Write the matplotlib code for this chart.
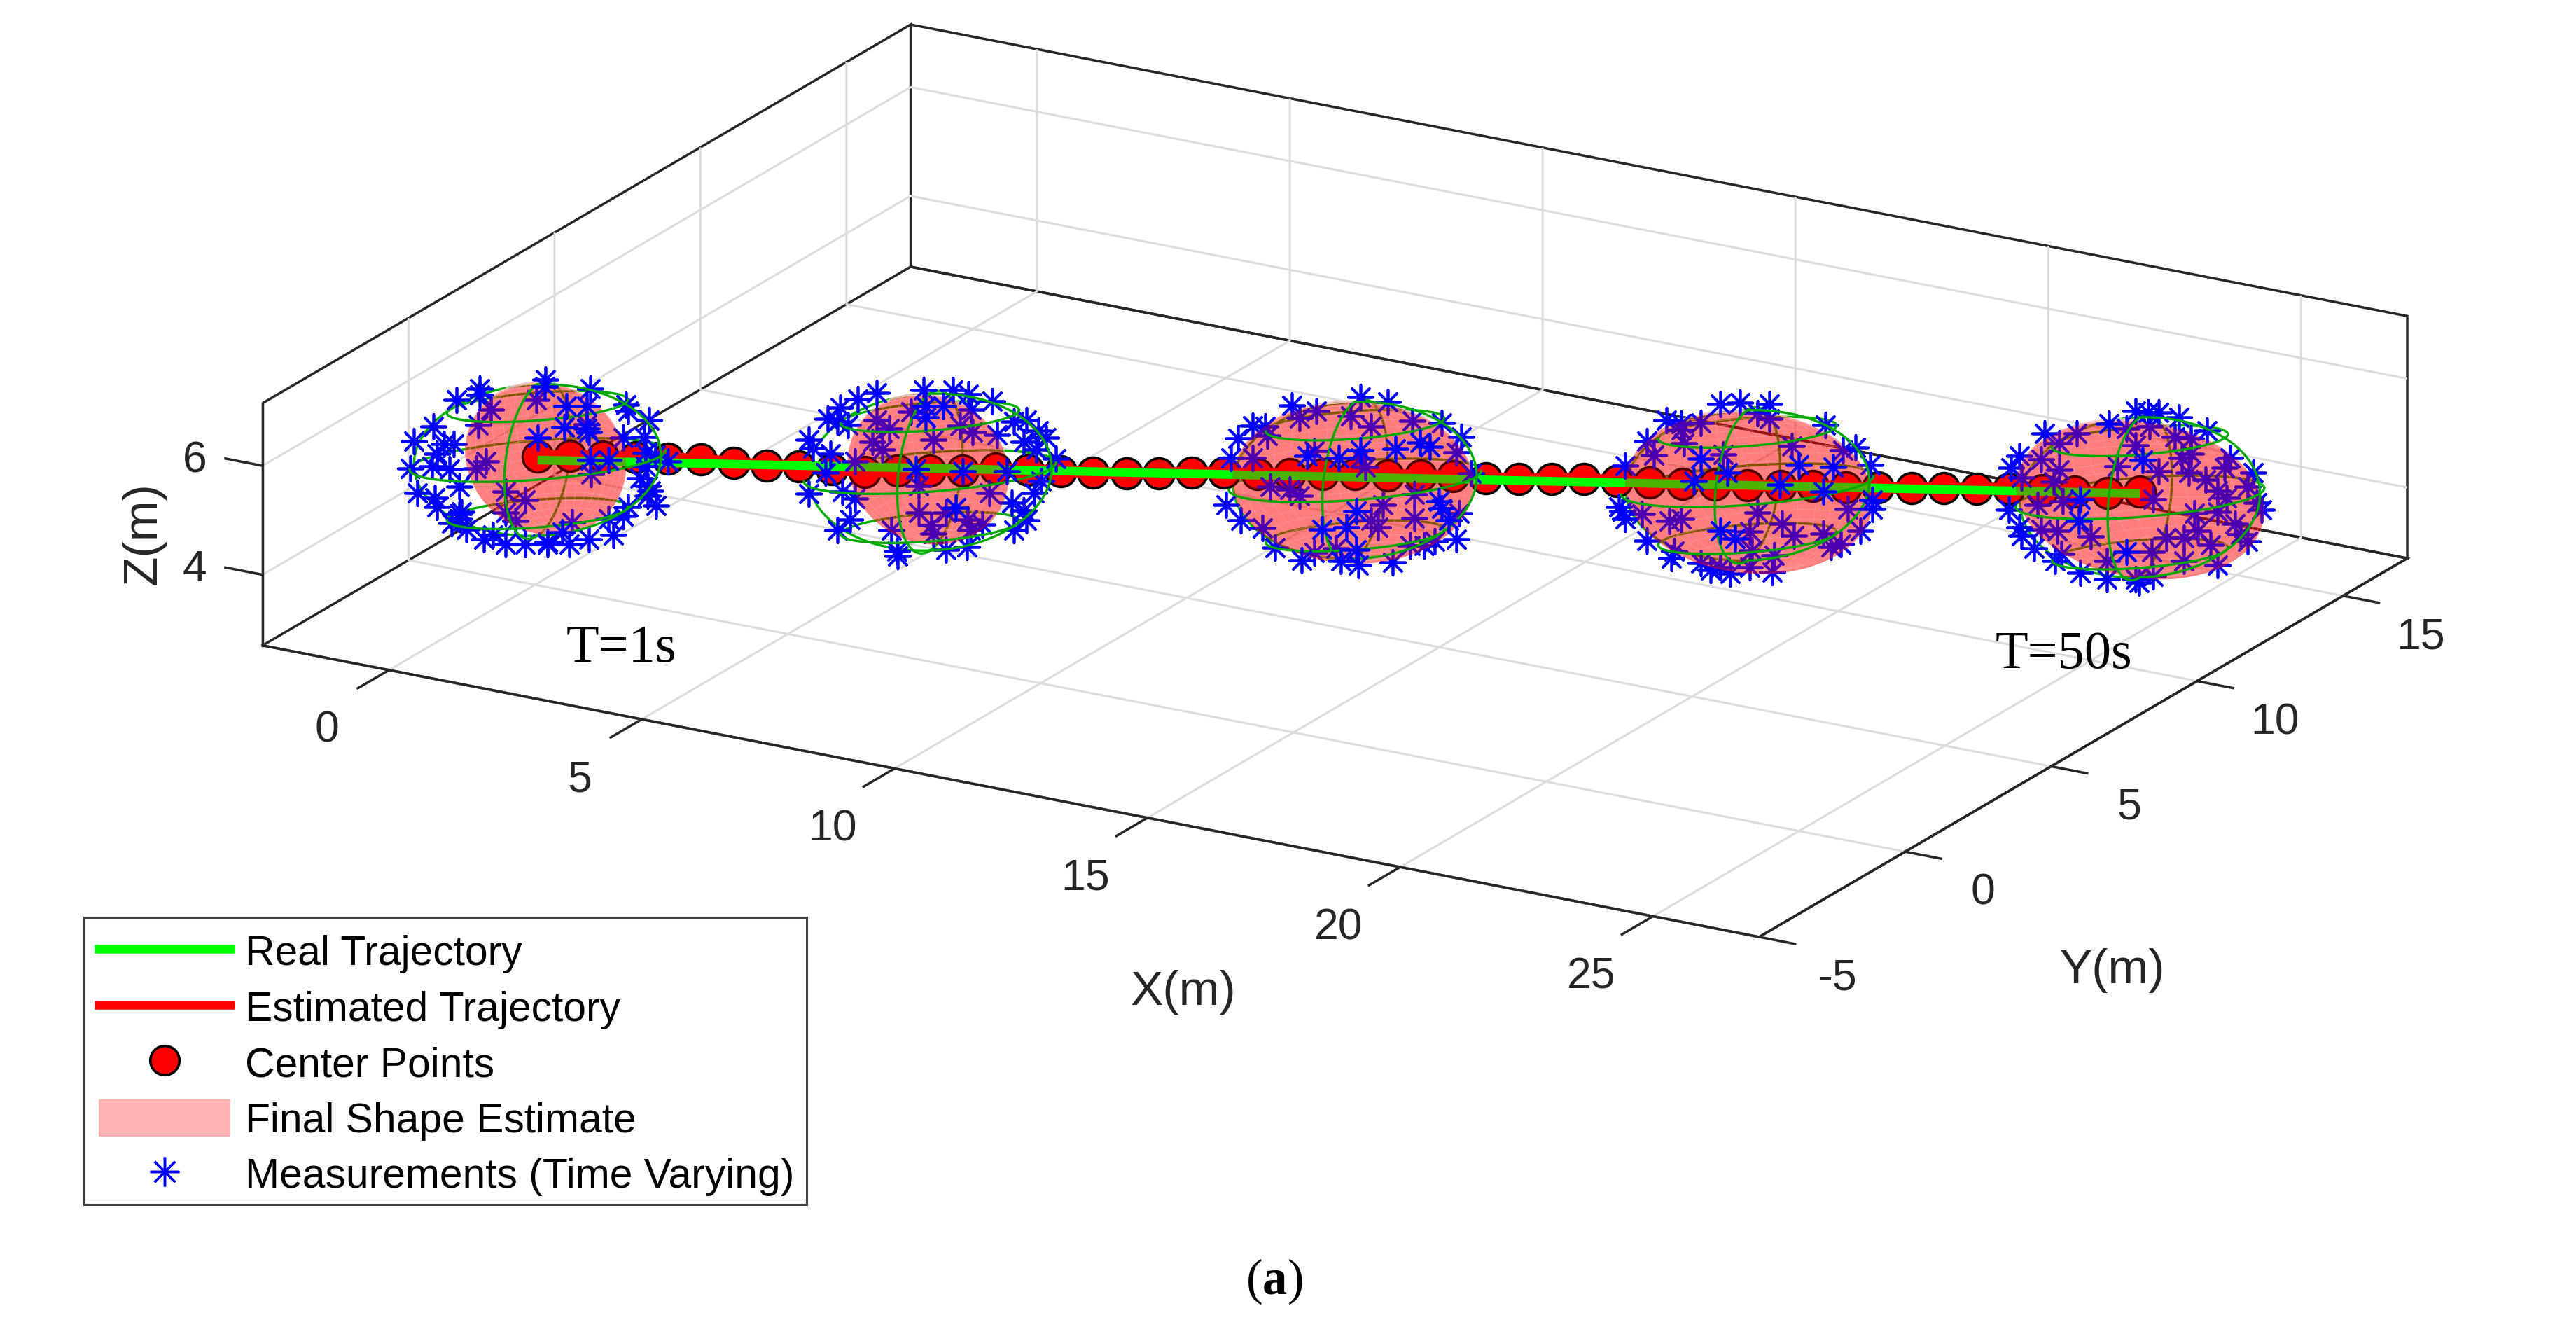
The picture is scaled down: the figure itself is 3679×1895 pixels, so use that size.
import numpy as np
import matplotlib
matplotlib.use("Agg")
from matplotlib import pyplot as plt
from matplotlib.lines import Line2D
from matplotlib.patches import Patch, Rectangle
from mpl_toolkits.mplot3d import proj3d

plt.rcParams['font.family'] = ['Liberation Sans', 'DejaVu Sans']
plt.rcParams['mathtext.fontset'] = 'custom'
plt.rcParams['mathtext.rm'] = 'Liberation Serif'
plt.rcParams['mathtext.bf'] = 'Liberation Serif:bold'

# axis ranges and ticks
x_lim = (-2.5, 27.1)
y_lim = (-5.0, 17.2)
z_lim = (2.7, 7.15)
x_ticks = [0, 5, 10, 15, 20, 25]
y_ticks = [-5, 0, 5, 10, 15]
z_ticks = [4, 6]

# real trajectory
true_x = [0.05, 0.55, 1.06, 1.56, 2.06, 2.56, 3.07, 3.57, 4.07, 4.57, 5.08, 5.58, 6.08, 6.58, 7.09,
          7.59, 8.09, 8.59, 9.1, 9.6, 10.1, 10.6, 11.11, 11.61, 12.11, 12.61, 13.12, 13.62, 14.12,
          14.62, 15.13, 15.63, 16.13, 16.63, 17.14, 17.64, 18.14, 18.64, 19.15, 19.65, 20.15, 20.65,
          21.16, 21.66, 22.16, 22.66, 23.17, 23.67, 24.17, 24.67]
true_y = [0.0, 0.25, 0.5, 0.75, 1.0, 1.25, 1.5, 1.75, 2.0, 2.25, 2.5, 2.75, 3.0, 3.25, 3.5, 3.75,
          4.0, 4.25, 4.5, 4.75, 5.0, 5.25, 5.5, 5.75, 6.0, 6.25, 6.5, 6.75, 7.0, 7.25, 7.5, 7.75,
          8.0, 8.25, 8.5, 8.75, 9.0, 9.25, 9.5, 9.75, 10.0, 10.25, 10.5, 10.75, 11.0, 11.25,
          11.5, 11.75, 12.0, 12.25]
true_z = [5.0, 5.0, 5.0, 5.0, 5.0, 5.0, 5.0, 5.0, 5.0, 5.0, 5.0, 5.0, 5.0, 5.0, 5.0, 5.0, 5.0,
          5.0, 5.0, 5.0, 5.0, 5.0, 5.0, 5.0, 5.0, 5.0, 5.0, 5.0, 5.0, 5.0, 5.0, 5.0, 5.0, 5.0,
          5.0, 5.0, 5.0, 5.0, 5.0, 5.0, 5.0, 5.0, 5.0, 5.0, 5.0, 5.0, 5.0, 5.0, 5.0, 5.0]

# estimated trajectory, same x and y, the height wobbles a bit
est_z = [5.07, 5.09, 5.09, 5.09, 5.08, 5.07, 5.03, 4.99, 4.99, 4.95, 4.91, 4.94, 4.96, 4.97, 5.02,
         5.01, 5.0, 4.98, 4.98, 5.0, 5.02, 5.03, 5.02, 5.03, 5.05, 5.06, 5.05, 5.06, 5.05, 5.03,
         5.03, 5.04, 5.06, 5.03, 5.01, 5.0, 5.0, 5.0, 5.0, 5.01, 5.0, 5.01, 5.02, 5.02, 5.03, 5.04,
         5.03, 5.01, 5.0, 5.03]

# true shape (green wire) at the five shown instants
wire_x = [0.05, 6.08, 12.61, 18.64, 24.67]
wire_y = [0.0, 3.0, 6.25, 9.25, 12.25]
wire_z = [5.0, 4.93, 4.94, 5.0, 4.93]
wire_ru = [2.19, 2.16, 2.16, 2.16, 2.13]
wire_rd = [1.0, 1.0, 1.0, 1.0, 1.0]
wire_rz = [1.39, 1.44, 1.44, 1.38, 1.47]

# estimated shape (pink), offset from the wire centre
pink_du = [0.14, -0.03, -0.03, 0.03, 0.0]
pink_dz = [0.03, 0.06, -0.03, -0.12, -0.03]
pink_ru = [1.36, 1.36, 2.05, 2.08, 2.05]
pink_rd = [1.0, 1.0, 1.0, 1.0, 1.0]
pink_rz = [1.38, 1.36, 1.47, 1.49, 1.47]
pink_lean = [0.18, 0.18, 0.2, 0.3, 0.4]

# measurements per instant: u = metres to the right of the centre, v = metres above it
m1_u = [0.14, 0.13, -0.99, -1.39, -0.99, -0.80, -0.02, 0.50, 0.90, 0.84, 1.51, 1.55, 1.91, -1.02,
        -1.78, 0.46, 0.84, 0.88, -2.12, -1.60, -1.43, 0.0, 1.47, 1.83, -1.72, -2.18, -1.81, -1.51,
        -0.88, -1.05, 0.91, 1.22, 1.85, 2.02, 2.23, 1.85, 0.92, -2.06, -1.76, -1.34, -0.55, -0.21,
        1.76, 1.89, 1.89, 2.03, 1.55, -1.72, -1.30, -1.34, -1.47, -0.55, -0.38, -1.22, -0.92,
        -0.76, -0.55, -0.21, 0.17, 0.42, 0.59, 0.55, 0.88, 1.30, 1.22, 1.47, 0.17, -1.34, 0.84, 1.93]
m1_v = [1.48, 1.35, 1.31, 1.10, 1.20, 0.92, 1.10, 0.99, 1.31, 0.99, 1.01, 0.90, 0.73, 0.64, 0.62,
        0.60, 0.58, 0.52, 0.35, 0.30, 0.30, 0.41, 0.41, 0.43, 0.11, -0.16, -0.11, -0.17, -0.02,
        -0.15, 0.0, 0.0, 0.13, 0.09, -0.02, -0.11, -0.26, -0.60, -0.69, -0.49, -0.58, -0.73, -0.34,
        -0.47, -0.65, -0.84, -0.86, -0.86, -0.95, -1.08, -1.16, -0.97, -1.12, -1.27, -1.46, -1.38,
        -1.55, -1.55, -1.55, -1.33, -1.14, -1.55, -1.46, -1.38, -1.08, -1.03, -1.50, -0.99, 0.65, -0.56]
m1_front = [1, 7, 9, 15, 16, 17, 21, 30, 31, 58, 59, 61]

m2_u = [-0.11, 0.39, 0.66, 1.07, -0.91, -1.24, -1.54, -0.32, -0.07, 0.23, 0.71, -1.75, -1.58, -1.41,
        -0.91, -0.70, -0.07, 1.44, 1.65, 1.15, 1.86, 1.99, -2.08, -2.00, -1.71, -0.99, -0.82, 0.06,
        0.52, 0.73, 1.61, 1.82, 2.16, -1.29, -1.79, -0.24, 0.56, 1.32, -0.19, 1.91, -2.08, -1.50,
        -1.29, 1.02, 1.78, 1.40, 1.61, -1.37, -1.58, -0.66, -0.19, 0.44, 0.27, 0.02, 0.65, 0.90,
        1.44, 1.65, -0.57, -0.55, 0.27, 0.63, 0.06, 0.69]
m2_v = [1.51, 1.51, 1.43, 1.30, 1.45, 1.34, 1.19, 1.11, 1.21, 1.21, 1.15, 0.98, 0.93, 0.87, 0.95,
        0.80, 1.00, 0.93, 0.95, 0.68, 0.76, 0.63, 0.59, 0.44, 0.33, 0.55, 0.42, 0.59, 0.85, 0.74,
        0.55, 0.42, 0.25, 0.20, -0.01, 0.05, 0.01, 0.01, -0.25, -0.16, -0.40, -0.36, -0.49, -0.38,
        -0.38, -0.57, -0.70, -0.87, -1.07, -1.07, -0.74, -0.66, -0.74, -0.98, -0.87, -0.96, -1.07,
        -0.89, -1.45, -1.54, -1.43, -1.37, -1.13, -1.07]
m2_front = [8, 9, 16, 35, 36, 37, 51]

m3_u = [0.10, 0.56, -1.08, -0.66, -0.95, -0.07, 0.98, 1.49, 0.27, -1.75, -1.54, -1.50, -2.00, 1.82,
        -0.82, -0.70, -0.28, 0.10, 0.10, 0.69, 1.11, 1.28, 1.74, -2.13, -1.75, 0.18, 1.99, -1.45,
        -1.12, -0.95, -2.21, -1.96, -1.58, 0.02, 0.48, 0.27, 1.02, 1.02, 1.44, 1.49, 1.61, 1.78,
        -0.57, -0.15, 0.39, 1.74, 1.36, -1.37, -0.91, -0.70, -0.32, 0.02, -0.24, 0.06, 0.65, 0.94, 1.19]
m3_v = [1.53, 1.44, 1.38, 1.27, 1.14, 1.18, 1.10, 1.05, 0.99, 1.01, 0.99, 0.82, 0.77, 0.80, 0.45,
        0.54, 0.41, 0.56, 0.41, 0.58, 0.69, 0.62, 0.52, 0.41, 0.41, 0.24, 0.13, -0.11, -0.17, -0.28,
        -0.45, -0.73, -0.88, -0.56, -0.45, -0.73, -0.69, -0.26, -0.39, -0.52, -0.73, -0.60, -0.90,
        -0.86, -0.86, -1.08, -1.12, -1.23, -1.46, -1.33, -1.25, -1.27, -1.48, -1.55, -1.51, -1.20, -1.20]
m3_front = [14, 16, 17, 19, 20, 21, 33, 38, 39, 40, 42, 43, 48, 51, 52, 53]

m4_u = [-0.46, -0.13, 0.38, 0.17, -1.39, -1.13, -0.80, 1.34, 0.38, -1.72, -1.09, 0.76, 1.85, 1.64,
        -1.60, -0.80, -0.42, 0.88, 1.47, 2.10, -2.10, -0.34, -0.92, 0.55, 1.30, 2.14, -2.2, -2.14,
        -1.81, -1.13, -1.34, 1.72, 2.14, 0.17, 0.59, -2.10, -0.46, -0.21, 0.04, 0.80, 1.30, 1.93,
        -1.72, 0.08, 1.43, 0.46, -1.26, -1.30, -0.80, -0.46, -0.29, 0.04, 0.42, 1.60, -1.13, -0.63]
m4_v = [1.50, 1.52, 1.50, 1.32, 1.20, 1.02, 1.15, 1.11, 1.22, 0.81, 0.77, 0.72, 0.70, 0.64, 0.55,
        0.49, 0.57, 0.38, 0.34, 0.38, 0.36, 0.23, 0.08, 0.01, -0.12, -0.27, -0.40, -0.48, -0.52,
        -0.61, -0.65, -0.44, -0.44, -0.50, -0.70, -0.61, -0.83, -0.98, -0.85, -0.93, -0.89, -0.83,
        -1.02, -1.19, -1.13, -1.28, -1.21, -1.34, -1.43, -1.51, -1.62, -1.51, -1.60, -1.08, 1.13, -1.56]
m4_front = [15, 17, 18, 21, 22, 23, 24, 25, 32, 36, 37]

m5_u = [-0.07, 0.14, 0.32, 0.67, 1.15, -0.53, -1.08, -1.63, -1.38, -0.23, 0.17, 0.60, 0.87, -0.07,
        -2.06, -1.69, -2.21, -2.03, -1.38, -1.48, -0.38, 0.05, 0.32, 0.72, 0.87, 0.84, 1.45, 1.54,
        1.94, 1.85, 1.12, 1.33, 1.48, -1.75, -1.32, -1.02, 0.23, 2.00, 2.09, -2.24, -1.05, 0.93,
        1.33, 1.63, -2.06, -1.69, -1.42, -0.84, 0.45, 0.75, 0.99, 1.73, 1.85, 1.21, -1.81, -1.45,
        -1.02, -0.56, -0.56, -0.23, 0.20, 0.75, 1.33, -0.07, 0.23, -0.01, -2.03, -1.35]
m5_v = [1.58, 1.56, 1.56, 1.47, 1.23, 1.36, 1.17, 1.17, 1.00, 1.26, 1.30, 1.11, 1.08, 0.95, 0.76,
        0.70, 0.55, 0.37, 0.50, 0.29, 0.57, 0.68, 0.48, 0.72, 0.80, 0.46, 0.55, 0.72, 0.46, 0.20,
        0.33, 0.12, -0.01, -0.14, -0.08, -0.03, -0.03, -0.10, -0.23, -0.23, -0.44, -0.29, -0.27,
        -0.49, -0.55, -0.59, -0.61, -0.72, -0.74, -0.74, -0.61, -0.68, -0.81, -0.87, -0.94, -1.17,
        -1.39, -1.17, -1.50, -1.00, -1.00, -1.17, -1.24, -1.50, -1.45, -1.56, -0.70, -1.04]
m5_front = [5, 21, 35, 40, 59]

# pixel places of the box corners in the reference: left, front, right, back top
corner_left = (375, 920)
corner_front = (2504, 1338)
corner_right = (3438, 793)
corner_backtop = (1307, 35)
W, H = 3680, 1895

# horizontal unit vectors of the view: to the right and towards the camera
right = np.array([np.cos(np.radians(30)), np.sin(np.radians(30))])
toward = np.array([np.sin(np.radians(30)), -np.cos(np.radians(30))])

fig = plt.figure(figsize=(W / 100, H / 100), dpi=100)
ax = fig.add_subplot(projection='3d', computed_zorder=False)
ax.set_proj_type('ortho')
ax.view_init(elev=30, azim=-60)
ax.set_xlim(*x_lim)
ax.set_ylim(*y_lim)
ax.set_zlim(*z_lim)
ax.set_box_aspect((x_lim[1] - x_lim[0], y_lim[1] - y_lim[0], 7.1))

# the reference is stretched, so fit the axes rectangle to its box corners
M = ax.get_proj()
def proj(x, y, z):
    px, py, _ = proj3d.proj_transform(x, y, z, M)
    return px, py
lx, ly = proj(x_lim[0], y_lim[0], z_lim[0])
rx, ry = proj(x_lim[1], y_lim[1], z_lim[0])
fx, fy = proj(x_lim[1], y_lim[0], z_lim[0])
tx, ty = proj(x_lim[0], y_lim[1], z_lim[1])
vx0, vx1 = ax.viewLim.intervalx
vy0, vy1 = ax.viewLim.intervaly
ax_scale = (corner_right[0] - corner_left[0]) / W / (rx - lx)
ay_scale = (corner_backtop[1] - corner_front[1]) / -H / (ty - fy)
left = corner_left[0] / W - ax_scale * (lx - vx0)
bottom = 1 - corner_front[1] / H - ay_scale * (fy - vy0)
ax.set_position([left, bottom, ax_scale * (vx1 - vx0), ay_scale * (vy1 - vy0)])
ax.apply_aspect = lambda position=None: None
ax.patch.set_visible(False)

box_color = '#262626'
for a in (ax.xaxis, ax.yaxis, ax.zaxis):
    a.pane.set_fill(False)
    a.pane.set_alpha(1)
    a.pane.set_edgecolor(box_color)
    a.pane.set_linewidth(2.5)
    a.line.set_color(box_color)
    a.line.set_linewidth(2.5)
    a._axinfo['grid'].update(color='#dcdcdc', linewidth=2.2)
    a._axinfo['tick'].update(inward_factor=0.0, linewidth={True: 2.5, False: 1.0})
# ticks stick out of the box; matplotlib's sign points them inward for this view
ax.xaxis._axinfo['tick']['outward_factor'] = -0.6
ax.yaxis._axinfo['tick']['outward_factor'] = -0.3
ax.zaxis._axinfo['tick']['outward_factor'] = 0.31
ax.zaxis._get_tickdir = lambda position: 0

ax.set_xticks(x_ticks)
ax.set_yticks(y_ticks)
ax.set_zticks(z_ticks)
ax.tick_params(axis='both', colors=box_color)
ax.zaxis.set_ticks_position('lower')
for a in (ax.xaxis, ax.yaxis, ax.zaxis):
    a.set_tick_params(label1On=False, label2On=False)
    a.offsetText.set_visible(False)
    a.label.set_visible(False)

tick_font = 45
for t in x_ticks:
    ax.text(t, y_lim[0] - 2.12, z_lim[0] - 0.45, str(t), fontsize=tick_font, color=box_color,
            ha='center', va='center')
for t in y_ticks:
    ax.text(x_lim[1] + 1.54, t, z_lim[0] - 0.48, str(t), fontsize=tick_font, color=box_color,
            ha='center', va='center')
for t in z_ticks:
    ax.text(x_lim[0] - 1.34, y_lim[0], t - 0.15, str(t), fontsize=tick_font, color=box_color,
            ha='center', va='center')

fig.text(1690 / W, 1 - 1417 / H, 'X(m)', fontsize=50, color=box_color, ha='center', va='center')
fig.text(3017 / W, 1 - 1386 / H, 'Y(m)', fontsize=50, color=box_color, ha='center', va='center')
fig.text(205 / W, 1 - 762 / H, 'Z(m)', fontsize=50, color=box_color, rotation=90, ha='center', va='center')

def stars(cx, cy, cz, u, v, zorder):
    u = np.array(u)
    v = np.array(v)
    ax.scatter(cx + u * right[0], cy + u * right[1], cz + v, marker=(8, 2, 0), s=640,
               color='#0000ff', linewidths=2.7, depthshade=False, zorder=zorder)

def ellipsoid(cx, cy, cz, ru, rd, rz, lean, a, lat):
    # a = angle round the vertical, 0 faces the camera; lat = latitude, radians
    u = ru * np.cos(lat) * np.sin(a)
    d = rd * np.cos(lat) * np.cos(a)
    w = rz * np.sin(lat)
    u = u - lean * w
    X = cx + u * right[0] + d * toward[0]
    Y = cy + u * right[1] + d * toward[1]
    Z = cz + w + 0.08 * u
    return X, Y, Z, d

def wire(cx, cy, cz, ru, rd, rz):
    curves = []
    t = np.linspace(-np.pi, np.pi, 181)
    for lat in np.radians([45, 0, -45]):
        curves.append((t, np.full_like(t, lat)))
    s = np.linspace(-np.pi / 2, np.pi / 2, 91)
    for a in np.radians([-15, 75, 165, 255]):
        curves.append((np.full_like(s, a), s))
    for a, lat in curves:
        X, Y, Z, d = ellipsoid(cx, cy, cz, ru, rd, rz, 0.0, a, lat)
        front = d >= 0
        ax.plot(np.where(front, np.nan, X), np.where(front, np.nan, Y), np.where(front, np.nan, Z),
                color='#00b000', lw=2.4, zorder=2.5)
        ax.plot(np.where(front, X, np.nan), np.where(front, Y, np.nan), np.where(front, Z, np.nan),
                color='#00a800', lw=2.4, zorder=5)

# trajectories and centre points
ax.scatter(true_x, true_y, est_z, marker='o', s=1000, color='#ff0000', edgecolors='k',
           linewidths=2.6, depthshade=False, zorder=3)
ax.plot(true_x, true_y, est_z, color='#ff0000', lw=12, zorder=3.1, solid_capstyle='butt')
ax.plot(true_x, true_y, true_z, color='#00ff00', lw=9, zorder=3.2, solid_capstyle='butt')

all_u = [m1_u, m2_u, m3_u, m4_u, m5_u]
all_v = [m1_v, m2_v, m3_v, m4_v, m5_v]
all_front = [m1_front, m2_front, m3_front, m4_front, m5_front]

def hemisphere(cx, cy, cz, i, a0, a1, zorder, mesh):
    aa, ll = np.meshgrid(np.linspace(a0, a1, 19), np.linspace(-np.pi / 2, np.pi / 2, 27))
    X, Y, Z, _ = ellipsoid(cx, cy, cz, pink_ru[i], pink_rd[i], pink_rz[i], pink_lean[i], aa, ll)
    surf = ax.plot_surface(X, Y, Z, color=(1, 0, 0), alpha=0.3, shade=False, linewidth=0.6 if mesh else 0,
                           antialiased=True, rcount=27, ccount=19, zorder=zorder)
    if mesh:
        # the faint lighter mesh of the surface
        surf.set_edgecolor((1, 1, 1, 0.15))

for i in range(5):
    cx, cy, cz = wire_x[i], wire_y[i], wire_z[i]
    u = np.array(all_u[i])
    v = np.array(all_v[i])
    mask = np.zeros(len(u), dtype=bool)
    mask[all_front[i]] = True
    stars(cx, cy, cz, u[~mask], v[~mask], 3.6)
    stars(cx, cy, cz, u[mask], v[mask], 6)
    wire(cx, cy, cz, wire_ru[i], wire_rd[i], wire_rz[i])
    px = cx + pink_du[i] * right[0]
    py = cy + pink_du[i] * right[1]
    pz = cz + pink_dz[i]
    # far half under the trajectory, near half over the stars that lie behind it
    hemisphere(px, py, pz, i, np.pi / 2, 3 * np.pi / 2, 2.8, True)
    hemisphere(px, py, pz, i, -np.pi / 2, np.pi / 2, 4, False)

fig.text(887 / W, 1 - 926 / H, 'T=1s', fontsize=55, family='Liberation Serif', ha='center', va='center')
fig.text(2948 / W, 1 - 936 / H, 'T=50s', fontsize=55, family='Liberation Serif', ha='center', va='center')
fig.text(1820 / W, 1 - 1830 / H, r'$\mathrm{(}\mathbf{a}\mathrm{)}$', fontsize=51, ha='center', va='center')

handles = [Line2D([], [], color='#00ff00', lw=9),
           Line2D([], [], color='#ff0000', lw=9),
           Line2D([], [], color='none', marker='o', ms=30, mfc='#ff0000', mec='k', mew=2.6),
           Patch(facecolor=(1, 0, 0, 0.3), edgecolor='none'),
           Line2D([], [], color='none', marker=(8, 2, 0), ms=30, mec='#0000ff', mew=2.5)]
labels = ['Real Trajectory', 'Estimated Trajectory', 'Center Points', 'Final Shape Estimate',
          'Measurements (Time Varying)']
fig.add_artist(Rectangle((120 / W, 1 - 1720 / H), 1032 / W, 410 / H, transform=fig.transFigure,
                         facecolor='white', edgecolor='#404040', linewidth=2.2, zorder=4))
leg = fig.legend(handles, labels, loc='lower left', bbox_to_anchor=(120 / W, 1 - 1729 / H),
                 bbox_transform=fig.transFigure, borderaxespad=0, fontsize=42.3, frameon=False,
                 numpoints=1, handlelength=3.2, handleheight=1.0, labelspacing=0.36,
                 handletextpad=0.36, borderpad=0.35)
leg.set_zorder(5)

fig.savefig('out.png', dpi=100)
